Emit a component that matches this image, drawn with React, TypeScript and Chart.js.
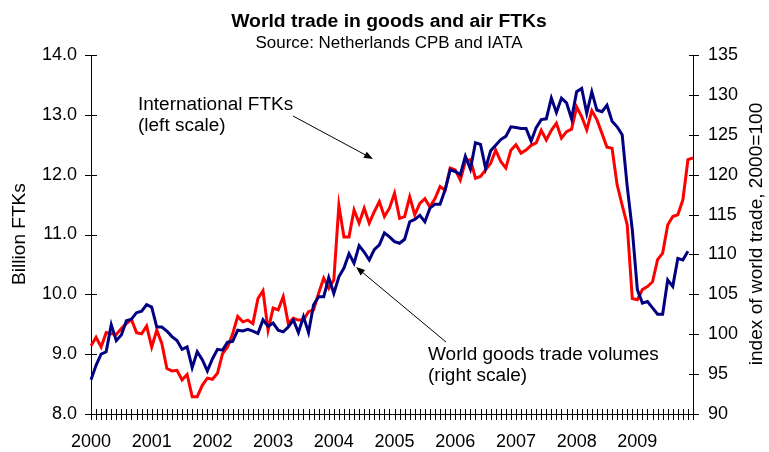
import React, { useEffect, useRef } from "react";
import { Chart, registerables } from "chart.js";

Chart.register(...registerables);

// Monthly categories Jan 2000 – Dec 2009
const years = ["2000", "2001", "2002", "2003", "2004", "2005", "2006", "2007", "2008", "2009"];
const months = ["01", "02", "03", "04", "05", "06", "07", "08", "09", "10", "11", "12"];
const categories: string[] = years.flatMap((y) => months.map((m) => `${y}-${m}`));

// International FTKs, billions (left scale)
const ftks = [
  9.14, 9.28, 9.12, 9.36, 9.34, 9.33, 9.43, 9.51, 9.58, 9.36, 9.34, 9.47,
  9.12, 9.40, 9.18, 8.76, 8.72, 8.73, 8.57, 8.66, 8.29, 8.29, 8.48, 8.60,
  8.58, 8.68, 9.01, 9.12, 9.34, 9.63, 9.54, 9.57, 9.51, 9.93, 10.06, 9.40,
  9.77, 9.74, 9.96, 9.51, 9.60, 9.57, 9.57, 9.71, 9.74, 10.02, 10.27, 10.10,
  10.24, 11.49, 10.96, 10.96, 11.41, 11.19, 11.44, 11.19, 11.38, 11.55, 11.30, 11.44,
  11.69, 11.27, 11.30, 11.63, 11.33, 11.52, 11.60, 11.46, 11.60, 11.80, 11.74, 12.11,
  12.08, 11.91, 12.22, 12.25, 11.94, 11.97, 12.08, 12.19, 12.41, 12.22, 12.11, 12.41,
  12.50, 12.36, 12.41, 12.49, 12.53, 12.74, 12.58, 12.74, 12.86, 12.61, 12.72, 12.76,
  13.13, 12.97, 12.75, 13.07, 12.92, 12.69, 12.46, 12.44, 11.83, 11.49, 11.16, 9.93,
  9.91, 10.08, 10.13, 10.21, 10.58, 10.69, 11.16, 11.30, 11.33, 11.58, 12.25, 12.28,
];

// World goods trade volume index, 2000=100 (right scale)
const tradeIndex = [
  94.3, 96.1, 97.5, 97.8, 101.2, 99.2, 99.9, 101.7, 101.9, 102.7, 102.9, 103.7,
  103.4, 100.9, 100.9, 100.4, 99.7, 99.2, 98.1, 98.4, 95.8, 97.8, 96.8, 95.4,
  96.9, 98.1, 98.0, 99.0, 99.1, 100.5, 100.4, 100.6, 100.4, 100.1, 101.8, 101.0,
  101.4, 100.5, 100.3, 100.9, 101.8, 100.2, 102.2, 100.2, 103.7, 104.7, 104.7, 107.1,
  105.1, 107.2, 108.3, 110.1, 108.9, 111.1, 110.3, 109.3, 110.6, 111.2, 112.7, 112.2,
  111.6, 111.4, 111.9, 114.1, 114.4, 114.9, 114.1, 115.8, 116.3, 116.3, 118.1, 120.6,
  120.4, 120.0, 122.3, 120.7, 124.0, 123.8, 120.8, 123.0, 123.7, 124.4, 124.8, 126.0,
  125.9, 125.8, 125.8, 124.2, 125.9, 126.9, 127.0, 129.6, 127.8, 129.6, 129.0, 127.0,
  130.4, 130.8, 127.7, 130.4, 128.1, 127.9, 128.7, 126.7, 126.0, 125.0, 118.5, 113.1,
  105.6, 103.9, 104.1, 103.3, 102.5, 102.5, 106.8, 106.0, 109.5, 109.3, 110.4,
];

const titleText = "World trade in goods and air FTKs";
const subtitleText = "Source: Netherlands CPB and IATA";
const leftAxisTitle = "Billion FTKs";
const rightAxisTitle = "index of world trade, 2000=100";
const noteFtks = ["International FTKs", "(left scale)"];
const noteTrade = ["World goods trade volumes", "(right scale)"];

const FONT = "'Liberation Sans', Arial, sans-serif";

function text(
  ctx: CanvasRenderingContext2D,
  s: string,
  x: number,
  y: number,
  font: string,
  align: CanvasTextAlign,
  baseline: CanvasTextBaseline,
  stretch: number,
  rotate = 0
) {
  ctx.save();
  ctx.translate(x, y);
  if (rotate) ctx.rotate(rotate);
  ctx.scale(stretch, 1);
  ctx.font = font;
  ctx.textAlign = align;
  ctx.textBaseline = baseline;
  ctx.fillStyle = "#000";
  ctx.fillText(s, 0, 0);
  ctx.restore();
}

function arrow(ctx: CanvasRenderingContext2D, x1: number, y1: number, x2: number, y2: number) {
  ctx.save();
  ctx.strokeStyle = "#000";
  ctx.fillStyle = "#000";
  ctx.lineWidth = 1;
  const ang = Math.atan2(y2 - y1, x2 - x1);
  const len = 9;
  const wid = 3.5;
  const bx = x2 - len * Math.cos(ang);
  const by = y2 - len * Math.sin(ang);
  ctx.beginPath();
  ctx.moveTo(x1, y1);
  ctx.lineTo(bx, by);
  ctx.stroke();
  ctx.beginPath();
  ctx.moveTo(x2, y2);
  ctx.lineTo(bx + wid * Math.sin(ang), by - wid * Math.cos(ang));
  ctx.lineTo(bx - wid * Math.sin(ang), by + wid * Math.cos(ang));
  ctx.closePath();
  ctx.fill();
  ctx.restore();
}

const decorPlugin = {
  id: "decor",
  afterDraw(chart: any) {
    const ctx: CanvasRenderingContext2D = chart.ctx;
    const xs = chart.scales.x;
    const yl = chart.scales.yLeft;
    const yr = chart.scales.yRight;
    const area = chart.chartArea;
    ctx.save();
    // tick marks crossing axes
    ctx.strokeStyle = "#000";
    ctx.lineWidth = 1;
    ctx.beginPath();
    for (let i = 0; i < categories.length; i++) {
      const px = Math.round(xs.getPixelForValue(i)) + 0.5;
      ctx.moveTo(px, area.bottom - 5);
      ctx.lineTo(px, area.bottom + 6);
    }
    yl.ticks.forEach((t: any) => {
      const py = Math.round(yl.getPixelForValue(t.value)) + 0.5;
      ctx.moveTo(area.left - 6, py);
      ctx.lineTo(area.left + 6, py);
    });
    yr.ticks.forEach((t: any) => {
      const py = Math.round(yr.getPixelForValue(t.value)) + 0.5;
      ctx.moveTo(area.right - 4, py);
      ctx.lineTo(area.right + 6, py);
    });
    ctx.stroke();
    ctx.restore();

    const f18 = `18px ${FONT}`;
    // titles
    text(ctx, titleText, 389, 27, `bold 18px ${FONT}`, "center", "alphabetic", 1.075);
    text(ctx, subtitleText, 389, 48, `16px ${FONT}`, "center", "alphabetic", 1.06);

    // axis titles
    text(ctx, leftAxisTitle, 20, 234, f18, "center", "middle", 1.06, -Math.PI / 2);
    text(ctx, rightAxisTitle, 757, 234, f18, "center", "middle", 1.06, -Math.PI / 2);

    // annotations
    text(ctx, noteFtks[0], 138, 110, f18, "left", "alphabetic", 1.055);
    text(ctx, noteFtks[1], 138, 131, f18, "left", "alphabetic", 1.055);
    text(ctx, noteTrade[0], 428, 360, f18, "left", "alphabetic", 1.055);
    text(ctx, noteTrade[1], 428, 381, f18, "left", "alphabetic", 1.055);

    arrow(ctx, 293, 116, 373, 159);
    arrow(ctx, 446, 342, 356, 267);
  },
};

export default function App() {
  const ref = useRef<HTMLCanvasElement | null>(null);

  useEffect(() => {
    document.body.style.margin = "0";
    const canvas = ref.current;
    if (!canvas) return;
    const tickFont = { family: FONT, size: 18 };
    const chart = new Chart(canvas, {
      type: "line",
      data: {
        labels: categories,
        datasets: [
          {
            label: "International FTKs",
            data: ftks,
            yAxisID: "yLeft",
            borderColor: "#FF0000",
            backgroundColor: "#FF0000",
            borderWidth: 3,
            pointRadius: 0,
            tension: 0,
            order: 1,
          },
          {
            label: "World goods trade volumes",
            data: tradeIndex,
            yAxisID: "yRight",
            borderColor: "#000080",
            backgroundColor: "#000080",
            borderWidth: 3,
            pointRadius: 0,
            tension: 0,
            order: 0,
          },
        ],
      },
      options: {
        responsive: false,
        animation: false,
        layout: { padding: { top: 55, left: 0, right: 0, bottom: 0 } },
        plugins: {
          legend: { display: false },
          title: { display: false },
          tooltip: { enabled: false },
        },
        scales: {
          x: {
            type: "category",
            offset: false,
            grid: { display: false, drawTicks: false },
            border: { display: true, color: "#000", width: 1 },
            ticks: {
              autoSkip: false,
              maxRotation: 0,
              minRotation: 0,
              padding: 17,
              color: "#000",
              font: tickFont,
              callback: (_v: any, idx: number) =>
                idx % 12 === 0 ? years[idx / 12] : "",
            },
            afterFit: (s: any) => {
              s.height = 38;
            },
          },
          yLeft: {
            type: "linear",
            position: "left",
            min: 8,
            max: 14,
            grid: { display: false, drawTicks: false },
            border: { display: true, color: "#000", width: 1 },
            ticks: {
              stepSize: 1,
              padding: 14,
              color: "#000",
              font: tickFont,
              callback: (v: any) => Number(v).toFixed(1),
            },
            afterFit: (s: any) => {
              s.width = 91;
            },
          },
          yRight: {
            type: "linear",
            position: "right",
            min: 90,
            max: 135,
            grid: { display: false, drawTicks: false },
            border: { display: true, color: "#000", width: 1 },
            ticks: {
              stepSize: 5,
              padding: 15,
              color: "#000",
              font: tickFont,
            },
            afterFit: (s: any) => {
              s.width = 76;
            },
          },
        },
      },
      plugins: [decorPlugin],
    } as any);
    return () => chart.destroy();
  }, []);

  return (
    <div style={{ width: 769, height: 452, background: "#fff" }}>
      <canvas ref={ref} width={769} height={452} style={{ display: "block" }} />
    </div>
  );
}
